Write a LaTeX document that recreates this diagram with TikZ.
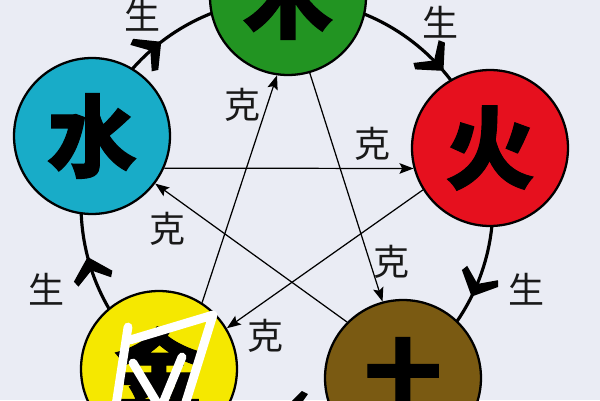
\documentclass[tikz,border=0pt]{standalone}
\usepackage{fontspec}
\newfontfamily\cjk{Noto Sans CJK SC}
\newfontfamily\cjkbig[BoldFeatures={FakeBold=1.2}]{Noto Sans CJK SC}
\usetikzlibrary{arrows.meta}
\definecolor{bg}{RGB}{234,236,244}
\definecolor{cmu}{RGB}{34,148,34}
\definecolor{chuo}{RGB}{230,16,30}
\definecolor{ctu}{RGB}{122,90,18}
\definecolor{cjin}{RGB}{245,232,0}
\definecolor{cshui}{RGB}{24,172,200}
\begin{document}
\begin{tikzpicture}[x=0.02cm,y=0.02cm,
 elem/.style={circle, draw=black, line width=1.3pt, minimum size=3.12cm, inner sep=0pt, font=\cjkbig\bfseries\fontsize{51}{51}\selectfont},
 lbl/.style={font=\cjk\fontsize{20.5}{22}\selectfont, text=black!90, inner sep=0pt},
 ke/.style={line width=0.7pt, -{Stealth[length=8pt,width=6pt,inset=1.5pt]}},
 sheng/.style={line width=1.8pt},
 scrib/.style={white, line width=5pt, line cap=round, line join=round}]
\useasboundingbox (0,0) rectangle (600,400);
\clip (0,0) rectangle (600,400);
\fill[bg] (0,0) rectangle (600,400);
\coordinate (C) at (287,195);
\draw[sheng] (C) circle[radius=4.12cm];
\foreach \t in {129,42,-25,196,270}{
  \fill[shift={(C)}, rotate=\t, shift={(206,0)}, rotate=-90, line join=round]
    (5,0) -- (-15,20) -- (-21,17) -- (-9,0) -- (-21,-17) -- (-15,-20) -- cycle;
}
\node[elem, fill=cmu] (mu) at (288,403) {木};
\node[elem, fill=chuo] (huo) at (490,252) {火};
\node[elem, fill=ctu] (tu) at (403,22) {土};
\node[elem, fill=cjin] (jin) at (159,31) {金};
\node[elem, fill=cshui] (shui) at (92,264) {水};
\draw[ke] (shui.-24) -- (huo.-165);
\draw[ke] (huo.-148) -- (jin.31);
\draw[ke] (jin.57) -- (mu.-98);
\draw[ke] (mu.-74) -- (tu.105);
\draw[ke] (tu.135) -- (shui.-37);
\node[lbl] (s1) at (143,385) {生};
\node[lbl] (s2) at (441,378) {生};
\node[lbl] (s3) at (527,111) {生};
\node[lbl] (s4) at (47,111) {生};
\node[lbl] (k1) at (243,295) {克};
\node[lbl] (k2) at (373,256) {克};
\node[lbl] (k3) at (168,171) {克};
\node[lbl] (k4) at (392,138) {克};
\node[lbl] (k5) at (266,64) {克};
\draw[scrib] (128,73) -- (116,-5);
\draw[scrib] (130,60) -- (213,85) -- (185,-5);
\draw[scrib] (133,37) -- (157,-3);
\draw[scrib] (182,43) -- (163,-3);
\end{tikzpicture}
\end{document}
